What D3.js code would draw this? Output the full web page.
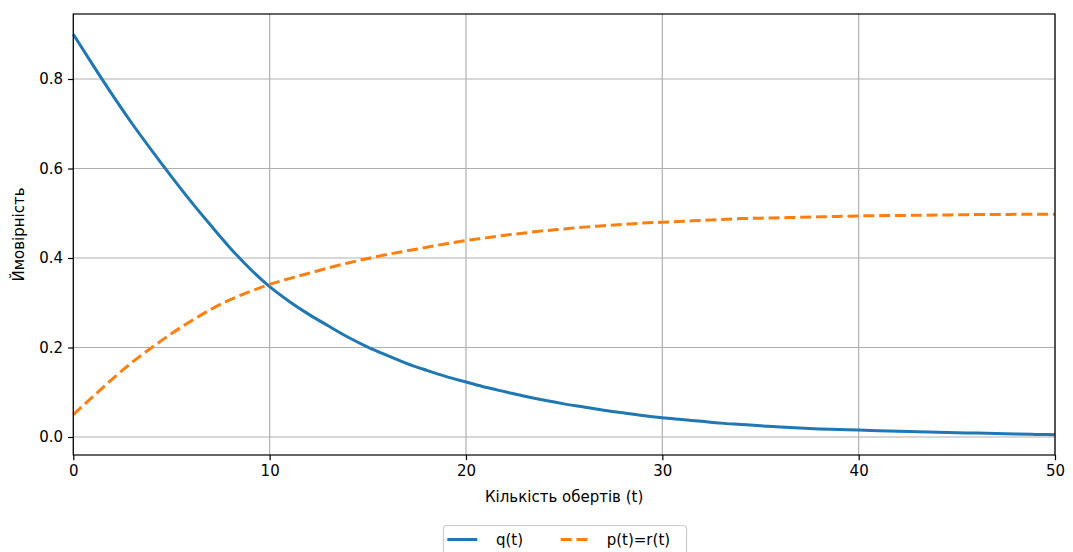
<!DOCTYPE html>
<html>
<head>
<meta charset="utf-8">
<script src="https://cdn.jsdelivr.net/npm/d3@7"></script>
<style>
  html, body { margin: 0; padding: 0; background: #ffffff; }
  svg { display: block; font-family: "DejaVu Sans", sans-serif; }
</style>
</head>
<body>
<svg id="chart" width="1073" height="552"></svg>
<script>
// Number of turns t = 0..50
const turns = d3.range(0, 51);

// q(t): probability of the initial state
const qValues = [
  0.900, 0.831, 0.764, 0.700, 0.640, 0.582, 0.526, 0.473, 0.422, 0.376,
  0.336, 0.303, 0.274, 0.248, 0.223, 0.201, 0.182, 0.164, 0.149, 0.135,
  0.123, 0.111, 0.101, 0.091, 0.082, 0.074, 0.067, 0.060, 0.054, 0.048,
  0.043, 0.039, 0.035, 0.031, 0.028, 0.025, 0.0225, 0.020, 0.018, 0.0168,
  0.0155, 0.0142, 0.013, 0.0118, 0.0107, 0.0097, 0.0087, 0.0077, 0.0068, 0.0058,
  0.0050
];

// p(t) = r(t)
const pValues = [
  0.050, 0.090, 0.130, 0.167, 0.200, 0.231, 0.259, 0.285, 0.307, 0.325,
  0.341, 0.354, 0.366, 0.378, 0.389, 0.399, 0.408, 0.416, 0.424, 0.432,
  0.439, 0.445, 0.451, 0.456, 0.461, 0.465, 0.469, 0.472, 0.475, 0.478,
  0.480, 0.482, 0.484, 0.486, 0.488, 0.489, 0.490, 0.491, 0.492, 0.493,
  0.494, 0.4945, 0.495, 0.4955, 0.496, 0.4965, 0.497, 0.4972, 0.4975, 0.4978,
  0.498
];

const xTicks = [0, 10, 20, 30, 40, 50];
const yTicks = [0.0, 0.2, 0.4, 0.6, 0.8];
const seriesNames = ["q(t)", "p(t)=r(t)"];
const xLabel = "Кількість обертів (t)";
const yLabel = "Ймовірність";

const colors = ["#1f77b4", "#ff7f0e"];
const dashPattern = "11,4.8";

const svg = d3.select("#chart");
const plot = { left: 73.3, right: 1055, top: 14, bottom: 455 };

const x = d3.scaleLinear().domain([0, 50]).range([plot.left, plot.right]);
// vertical scale: 0.0 sits at 437px, 0.8 at 79px
const y = d3.scaleLinear().domain([0, 0.8]).range([437, 79]);

// grid
const grid = svg.append("g").attr("stroke", "#b0b0b0").attr("stroke-width", 1.2);
grid.selectAll("line.gx").data(xTicks).join("line")
  .attr("x1", d => x(d)).attr("x2", d => x(d))
  .attr("y1", plot.top).attr("y2", plot.bottom);
grid.selectAll("line.gy").data(yTicks).join("line")
  .attr("x1", plot.left).attr("x2", plot.right)
  .attr("y1", d => y(d)).attr("y2", d => y(d));

// lines
const line = vals => d3.line()
  .x((d, i) => x(turns[i]))
  .y(d => y(d))
  .curve(d3.curveMonotoneX)(vals);

svg.append("path")
  .attr("d", line(qValues))
  .attr("fill", "none")
  .attr("stroke", colors[0])
  .attr("stroke-width", 3)
  .attr("stroke-linecap", "butt");

svg.append("path")
  .attr("d", line(pValues))
  .attr("fill", "none")
  .attr("stroke", colors[1])
  .attr("stroke-width", 3)
  .attr("stroke-dasharray", dashPattern)
  .attr("stroke-linecap", "butt");

// axes
const xAxis = d3.axisBottom(x).tickValues(xTicks).tickFormat(d3.format("d"))
  .tickSizeInner(5.2).tickSizeOuter(0).tickPadding(5);
const yAxis = d3.axisLeft(y).tickValues(yTicks).tickFormat(d3.format(".1f"))
  .tickSizeInner(5.2).tickSizeOuter(0).tickPadding(5);

const gx = svg.append("g").attr("transform", `translate(0,${plot.bottom})`).call(xAxis);
const gy = svg.append("g").attr("transform", `translate(${plot.left},0)`).call(yAxis);
[gx, gy].forEach(g => {
  g.select(".domain").remove();
  g.selectAll(".tick line").attr("stroke", "#000").attr("stroke-width", 1.2);
  g.selectAll(".tick text")
    .attr("fill", "#000")
    .style("font-family", "'DejaVu Sans', sans-serif")
    .style("font-size", "15px");
});

// frame
svg.append("rect")
  .attr("x", plot.left).attr("y", plot.top)
  .attr("width", plot.right - plot.left).attr("height", plot.bottom - plot.top)
  .attr("fill", "none").attr("stroke", "#000").attr("stroke-width", 1.2);

// axis labels
svg.append("text")
  .attr("x", (plot.left + plot.right) / 2).attr("y", 502)
  .attr("text-anchor", "middle")
  .style("font-size", "15px")
  .text(xLabel);

svg.append("text")
  .attr("transform", `translate(24,${(plot.top + plot.bottom) / 2}) rotate(-90)`)
  .attr("text-anchor", "middle")
  .style("font-size", "15px")
  .text(yLabel);

// legend
const legend = svg.append("g");
legend.append("rect")
  .attr("x", 443.5).attr("y", 525.5).attr("width", 243).attr("height", 40)
  .attr("rx", 3).attr("ry", 3)
  .attr("fill", "#ffffff").attr("fill-opacity", 0.8)
  .attr("stroke", "#cccccc").attr("stroke-width", 1.2);

const legendItems = [
  { name: seriesNames[0], color: colors[0], dash: null, x0: 447.3, tx: 496 },
  { name: seriesNames[1], color: colors[1], dash: dashPattern, x0: 560.7, tx: 606.7 }
];
legendItems.forEach(it => {
  legend.append("line")
    .attr("x1", it.x0).attr("x2", it.x0 + 30)
    .attr("y1", 539.5).attr("y2", 539.5)
    .attr("stroke", it.color).attr("stroke-width", 3)
    .attr("stroke-dasharray", it.dash);
  legend.append("text")
    .attr("x", it.tx).attr("y", 545)
    .style("font-size", "15px")
    .text(it.name);
});
</script>
</body>
</html>
